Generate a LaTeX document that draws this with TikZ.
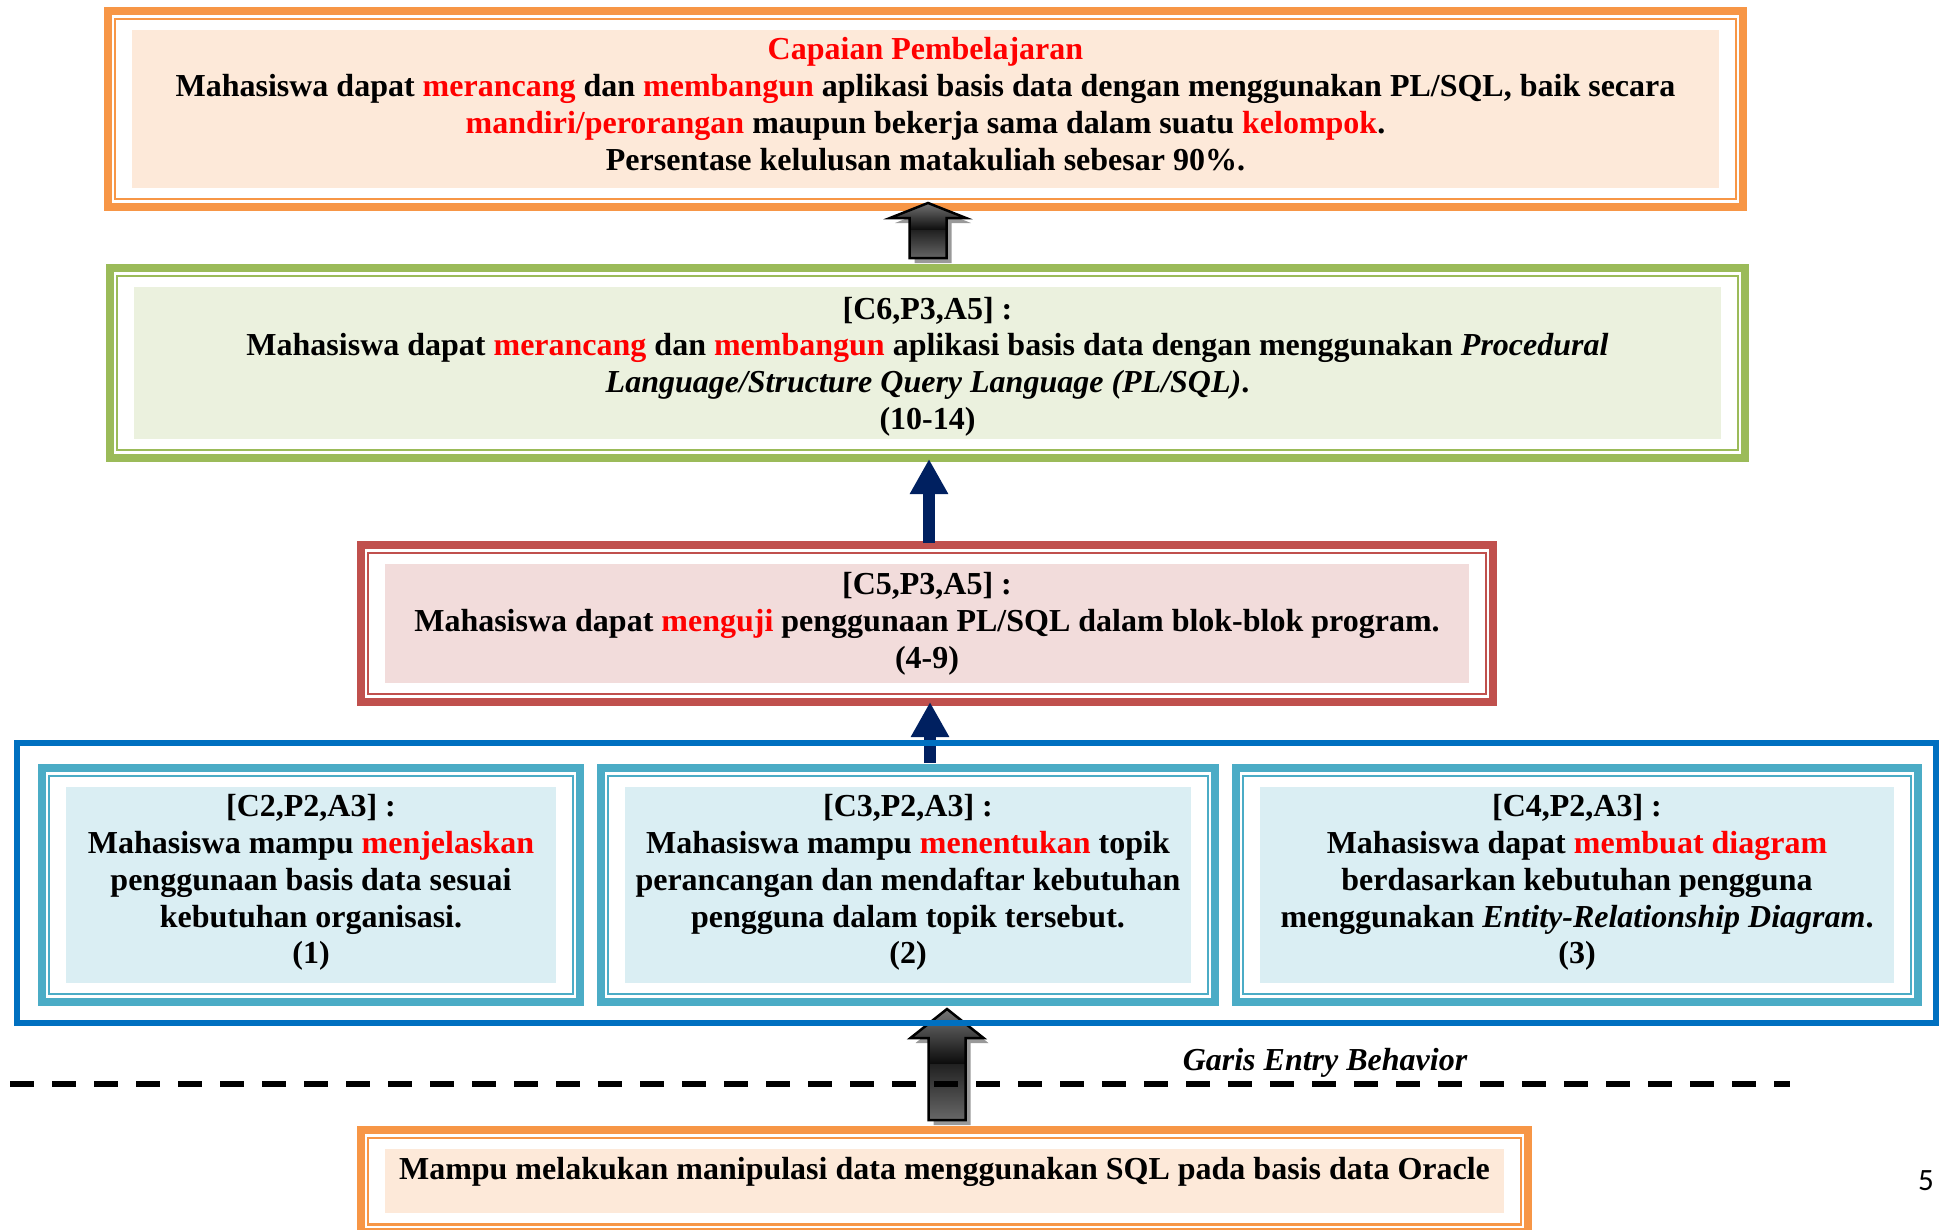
\documentclass[tikz,border=0pt]{standalone}
\usepackage{fontspec}
\setmainfont{Liberation Serif}
\newfontfamily\pgnum{Carlito}
\usetikzlibrary{calc,arrows.meta}
\definecolor{orgB}{HTML}{F79646}
\definecolor{orgF}{HTML}{FDE9D9}
\definecolor{grnB}{HTML}{9BBB59}
\definecolor{grnF}{HTML}{EBF1DE}
\definecolor{redB}{HTML}{C0504D}
\definecolor{redF}{HTML}{F2DCDB}
\definecolor{tealB}{HTML}{4BACC6}
\definecolor{tealF}{HTML}{DAEEF3}
\definecolor{frameB}{HTML}{0070C0}
\definecolor{navyA}{HTML}{002060}
\definecolor{hlred}{HTML}{FF0000}
\definecolor{gA}{HTML}{7A7A7A}
\definecolor{gB}{HTML}{0A0A0A}
\definecolor{gC}{HTML}{222222}
\definecolor{gD}{HTML}{6A6A6A}
\newcommand\rd[1]{\textcolor{hlred}{#1}}
\tikzset{
  txt/.style={font=\bfseries\fontsize{32}{36.8}\selectfont, align=center, inner sep=0pt},
  box/.style={fill=#1, inner sep=0pt},
  navyarrow/.style={navyA, line width=12pt, line cap=butt, -{Triangle[length=35pt,width=36pt]}},
}
\newcommand\twoframe[2]{%
  \draw[#2, line width=2.5pt] ([shift={(-17,-11)}]#1.north west) rectangle ([shift={(17,11)}]#1.south east);
  \draw[#2, line width=8.5pt] ([shift={(-24,-19)}]#1.north west) rectangle ([shift={(24,19)}]#1.south east);}
\newcommand\arrshape[5]{($(#1)+(-#3,#5)$) -- (#1) -- ($(#1)+(#3,#5)$) -- ($(#1)+(#4,#5)$) -- ($(#2)+(#4,0)$) -- ($(#2)+(-#4,0)$) -- ($(#1)+(-#4,#5)$) -- cycle}
\newcommand\barrow[5]{%
  \fill[black!50, opacity=.8, transform canvas={shift={(5,5)}}] \arrshape{#1}{#2}{#3}{#4}{#5};
  \begin{scope}
    \clip \arrshape{#1}{#2}{#3}{#4}{#5};
    \coordinate (#1m) at ($(#1)!0.5!(#2)$);
    \shade[top color=gA, bottom color=gB] ($(#1)+(-#3,-2)$) rectangle ($(#1m)+(#3,0)$);
    \shade[top color=gC, bottom color=gD] ($(#1m)+(-#3,0)$) rectangle ($(#2)+(#3,2)$);
  \end{scope}
  \draw[black, line width=2.5pt, line join=miter] \arrshape{#1}{#2}{#3}{#4}{#5};}

\begin{document}
\begin{tikzpicture}[x=1pt,y=-1pt]
\useasboundingbox (0,0) rectangle (1941,1229);
\clip (0,0) rectangle (1941,1229);

% Capaian Pembelajaran
\node[box=orgF, minimum width=1587pt, minimum height=158pt] (cp) at (925.5,109) {};
\twoframe{cp}{orgB}
\node[txt] (cptext) at ([yshift=5pt]cp.center) {%
\rd{Capaian Pembelajaran}\\
Mahasiswa dapat \rd{merancang} dan \rd{membangun} aplikasi basis data dengan menggunakan PL/SQL, baik secara\\
\rd{mandiri/perorangan} maupun bekerja sama dalam suatu \rd{kelompok}.\\
Persentase kelulusan matakuliah sebesar 90\%.};

% C6
\node[box=grnF, minimum width=1587pt, minimum height=152pt] (c6) at (927.5,363) {};
\twoframe{c6}{grnB}
\node[txt] (c6text) at ([yshift=-3.5pt]c6.center) {%
[C6,P3,A5] :\\
Mahasiswa dapat \rd{merancang} dan \rd{membangun} aplikasi basis data dengan menggunakan \textit{Procedural}\\
\textit{Language/Structure Query Language (PL/SQL)}.\\
(10-14)};

% C5
\node[box=redF, minimum width=1084pt, minimum height=119pt] (c5) at (927,623.5) {};
\twoframe{c5}{redB}
\node[txt] (c5text) at (c5.center) {%
[C5,P3,A5] :\\
Mahasiswa dapat \rd{menguji} penggunaan PL/SQL dalam blok-blok program.\\
(4-9)};

% arrows between levels
\coordinate (a1t) at (928,203); \coordinate (a1b) at (928,258);
\barrow{a1t}{a1b}{38}{18.5}{15}
\coordinate (a2b) at (929,543); \coordinate (a2t) at (929,459);
\draw[navyarrow] (a2b) -- (a2t);
\coordinate (a3b) at (930,763); \coordinate (a3t) at (930,702);
\draw[navyarrow] (a3b) -- (a3t);
\coordinate (a4t) at (947,1009); \coordinate (a4b) at (947,1120);
\barrow{a4t}{a4b}{36.5}{18.5}{29}

% lower level boxes
\node[box=tealF, minimum width=490pt, minimum height=196pt] (c2) at (311,885) {};
\twoframe{c2}{tealB}
\node[txt] (c2text) at ([yshift=2.5pt]c2.center) {%
[C2,P2,A3] :\\
Mahasiswa mampu \rd{menjelaskan}\\
penggunaan basis data sesuai\\
kebutuhan organisasi.\\
(1)};
\node[box=tealF, minimum width=566pt, minimum height=196pt] (c3) at (908,885) {};
\twoframe{c3}{tealB}
\node[txt] (c3text) at ([yshift=2.5pt]c3.center) {%
[C3,P2,A3] :\\
Mahasiswa mampu \rd{menentukan} topik\\
perancangan dan mendaftar kebutuhan\\
pengguna dalam topik tersebut.\\
(2)};
\node[box=tealF, minimum width=634pt, minimum height=196pt] (c4) at (1577,885) {};
\twoframe{c4}{tealB}
\node[txt] (c4text) at ([yshift=2.5pt]c4.center) {%
[C4,P2,A3] :\\
Mahasiswa dapat \rd{membuat diagram}\\
berdasarkan kebutuhan pengguna\\
menggunakan \textit{Entity-Relationship Diagram}.\\
(3)};
\draw[frameB, line width=6pt] ([shift={(-49,-44)}]c2.north west) rectangle ([shift={(42,40)}]c4.south east);

% entry behavior line
\coordinate (dl) at (10,1084); \coordinate (dr) at (1790,1084);
\draw[black, line width=6pt, dash pattern=on 24pt off 18pt] (dl) -- (dr);
\node[font=\bfseries\itshape\fontsize{32}{36.8}\selectfont, inner sep=0pt] (geb) at (1325,1063) {Garis Entry Behavior};

% bottom box
\node[box=orgF, txt, minimum width=1119pt, text height=30.5pt, text depth=33.5pt, anchor=north] (eb) at (944.5,1149) {%
Mampu melakukan manipulasi data menggunakan SQL pada basis data Oracle};
\twoframe{eb}{orgB}

\node[font=\pgnum\fontsize{31}{31}\selectfont, inner sep=0pt] (pg) at (1926,1181) {5};
\end{tikzpicture}
\end{document}
